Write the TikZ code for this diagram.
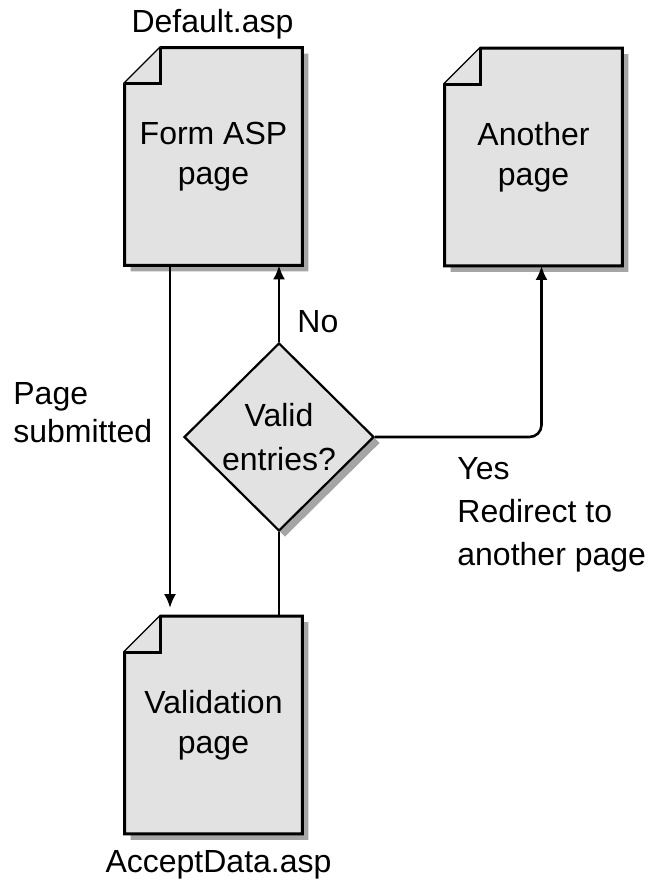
\documentclass[tikz,border=0pt]{standalone}
\usepackage{fontspec}
\setmainfont{Liberation Sans}
\usetikzlibrary{shapes.geometric,arrows.meta,backgrounds,shadows}
\definecolor{pagegray}{RGB}{226,226,226}
\definecolor{shadowgray}{RGB}{165,165,165}
\newcommand{\foldsize}{18pt}
% outline of a page with dog-ear, #2 = offset (for the shadow)
\newcommand{\pagepath}[2]{([shift={(#2)},yshift=-\foldsize]#1.north west) -- ([shift={(#2)},xshift=\foldsize]#1.north west) -- ([shift={(#2)}]#1.north east) -- ([shift={(#2)}]#1.south east) -- ([shift={(#2)}]#1.south west) -- cycle}
\newcommand{\drawpage}[1]{%
  \fill[shadowgray] \pagepath{#1}{3pt,-3pt};
  \filldraw[pageline] \pagepath{#1}{0pt,0pt};
  \draw[pageline] ([xshift=\foldsize]#1.north west) -- ([shift={(\foldsize,-\foldsize)}]#1.north west) -- ([yshift=-\foldsize]#1.north west);
}

\begin{document}
\begin{tikzpicture}[x=0.5pt, y=-0.5pt,
    every node/.style={font=\fontsize{16}{20}\selectfont},
    pagebox/.style={minimum width=88.5pt, minimum height=108.5pt, align=center, inner sep=0pt},
    pageline/.style={draw=black, fill=pagegray, line width=1.5pt, line join=miter},
    decision/.style={diamond, draw, line width=1.1pt, fill=pagegray, minimum width=95pt, minimum height=94pt,
        inner sep=0pt, align=center, font=\fontsize{16}{22}\selectfont,
        drop shadow={shadow xshift=3pt, shadow yshift=-3pt, fill=shadowgray, opacity=1}},
    caption/.style={inner sep=0pt, align=left},
    connector/.style={line width=1.3pt},
    arrow/.style={connector, -{Latex[length=7pt,width=6pt]}}
]
    \useasboundingbox (0,0) rectangle (652,881);

    % pages
    \node[pagebox] (form) at (213.5,156.5) {Form ASP\\page};
    \node[pagebox] (another) at (533.5,157) {Another\\page};
    \node[pagebox] (valid) at (213.5,725) {Validation\\page};
    \begin{scope}[on background layer]
        \drawpage{form}
        \drawpage{another}
        \drawpage{valid}
    \end{scope}

    % decision
    \node[decision] (check) at (279,437) {Valid\\entries?};

    % file names
    \node[caption, anchor=base] (formname) at (212.5,33) {Default.asp};
    \node[caption, anchor=base] (validname) at (218.5,872) {AcceptData.asp};

    % connectors
    \coordinate (submit) at ([xshift=-21.75pt]form.south);
    \draw[arrow, shorten >=4pt] (submit) -- (submit |- valid.north);
    \draw[arrow] (check.north) -- (check.north |- form.south);
    \draw[connector] (check.south) -- (check.south |- valid.north);
    \coordinate (redirect) at ([xshift=4pt]another.south);
    \draw[arrow, rounded corners=6pt] (check.east) -| (redirect);

    % labels
    \node[caption, anchor=north west, font=\fontsize{16}{19}\selectfont] (submitted) at (13,382) {Page\\submitted};
    \node[caption, anchor=north west] (no) at (297,310) {No};
    \node[caption, anchor=north west, font=\fontsize{16}{21.5}\selectfont] (yes) at (457,457) {Yes\\Redirect to\\another page};
\end{tikzpicture}
\end{document}
